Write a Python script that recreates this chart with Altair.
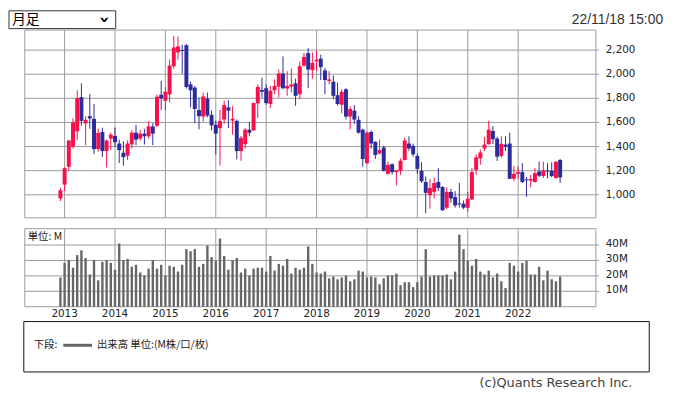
import altair as alt
import pandas as pd

# Monthly candles, Dec 2012 .. Nov 2022
opens = [970, 1084, 1232, 1398, 1526, 1810, 1592, 1652, 1630, 1379, 1521, 1363, 1466,
         1488, 1425, 1349, 1324, 1417, 1515, 1466, 1507, 1485, 1567, 1573, 1829,
         1780, 1832, 2066, 2181, 2200, 2241, 1916, 1889, 1703, 1649, 1799, 1663,
         1581, 1553, 1624, 1725, 1616, 1613, 1362, 1420, 1540, 1534, 1758, 1870,
         1884, 1753, 1867, 1897, 2006, 1881, 1897, 1924, 1834, 2072, 2175, 2034,
         2107, 2129, 2031, 1943, 1938, 1826, 1747, 1875, 1649, 1698, 1622, 1540,
         1262, 1521, 1439, 1343, 1392, 1174, 1253, 1188, 1199, 1289, 1425, 1406,
         1322, 1199, 1106, 997, 1024, 1106, 1065, 893, 1024, 981, 929, 926,
         893, 961, 1207, 1302, 1384, 1420, 1529, 1466, 1322, 1417, 1425, 1133,
         1174, 1188, 1128, 1117, 1106, 1193, 1155, 1202, 1199, 1139, 1289]
highs = [1057, 1228, 1455, 1635, 1867, 1924, 1652, 1834, 1753, 1548, 1556, 1458, 1515,
         1556, 1458, 1444, 1452, 1534, 1581, 1540, 1548, 1611, 1594, 1832, 1944,
         1894, 2121, 2317, 2312, 2244, 2249, 1938, 1903, 1807, 1848, 1848, 1698,
         1616, 1703, 1780, 1785, 1734, 1624, 1488, 1553, 1603, 1765, 1916, 1971,
         1916, 1903, 1957, 2039, 2148, 2025, 2047, 1963, 2107, 2175, 2216, 2181,
         2197, 2162, 2053, 2025, 1990, 1930, 1875, 1884, 1734, 1744, 1652, 1548,
         1526, 1534, 1444, 1458, 1406, 1275, 1262, 1206, 1302, 1472, 1485, 1425,
         1343, 1270, 1152, 1131, 1144, 1221, 1071, 1062, 1049, 1030, 1098, 953,
         1024, 1221, 1335, 1376, 1480, 1613, 1570, 1480, 1485, 1485, 1515, 1240,
         1234, 1262, 1147, 1166, 1221, 1275, 1275, 1262, 1270, 1278, 1297]
lows = [948, 1030, 1199, 1384, 1453, 1575, 1412, 1548, 1338, 1357, 1313, 1226, 1371,
        1398, 1264, 1240, 1289, 1384, 1412, 1452, 1417, 1466, 1412, 1559, 1703,
        1698, 1766, 2047, 2121, 2004, 1881, 1725, 1594, 1543, 1608, 1643, 1534,
        1335, 1242, 1589, 1553, 1499, 1294, 1281, 1384, 1485, 1530, 1635, 1807,
        1747, 1720, 1834, 1807, 1875, 1821, 1848, 1739, 1793, 2058, 1884, 1963,
        2025, 1952, 1834, 1916, 1793, 1739, 1676, 1624, 1543, 1589, 1507, 1234,
        1253, 1384, 1297, 1335, 1193, 1166, 1166, 1076, 1166, 1285, 1362, 1316,
        1174, 1098, 847, 885, 970, 1030, 866, 880, 934, 893, 893, 880,
        861, 955, 1166, 1248, 1362, 1415, 1420, 1281, 1308, 1362, 1130, 1112,
        1133, 1098, 983, 1062, 1102, 1147, 1139, 1136, 1147, 1135, 1098]
closes = [1038, 1221, 1450, 1602, 1802, 1613, 1622, 1633, 1379, 1513, 1363, 1450, 1499,
          1436, 1371, 1313, 1425, 1515, 1458, 1507, 1485, 1567, 1507, 1813, 1799,
          1854, 2072, 2222, 2230, 2192, 1894, 1867, 1712, 1652, 1815, 1657, 1575,
          1507, 1611, 1744, 1698, 1630, 1362, 1472, 1540, 1515, 1761, 1894, 1854,
          1761, 1862, 1903, 2006, 1884, 1903, 1916, 1821, 2066, 2143, 2039, 2094,
          2121, 2058, 1952, 1957, 1821, 1753, 1854, 1649, 1712, 1624, 1515, 1297,
          1515, 1425, 1330, 1371, 1199, 1248, 1188, 1202, 1283, 1450, 1384, 1335,
          1215, 1112, 1016, 1057, 1098, 1057, 872, 1024, 970, 912, 921, 893,
          967, 1188, 1311, 1351, 1417, 1540, 1461, 1316, 1423, 1398, 1133, 1174,
          1188, 1106, 1120, 1131, 1180, 1158, 1202, 1193, 1155, 1275, 1144]
volumes = [19.0, 28.4, 30.3, 25.3, 33.5, 36.6, 31.6, 20.9, 30.3, 17.1, 29.1, 30.3, 28.4,
           24.0, 41.0, 30.3, 31.0, 25.9, 27.2, 22.2, 20.3, 24.7, 30.3, 24.7, 27.2,
           20.3, 26.6, 25.9, 22.8, 27.2, 37.3, 36.0, 37.3, 25.9, 27.8, 39.8, 32.2,
           29.7, 44.2, 32.9, 24.0, 30.3, 31.6, 22.2, 24.7, 20.3, 24.7, 25.3, 25.3,
           22.8, 32.9, 23.4, 27.8, 26.6, 31.0, 21.5, 25.3, 24.0, 25.3, 39.1, 27.8,
           22.2, 21.5, 22.8, 18.4, 19.6, 17.8, 19.0, 20.3, 16.5, 17.8, 23.4, 22.8,
           19.0, 19.6, 19.0, 14.6, 18.4, 20.3, 20.3, 21.5, 14.0, 15.9, 15.9, 12.7,
           15.9, 19.6, 37.3, 19.6, 20.3, 20.3, 20.3, 20.9, 17.8, 22.8, 46.7, 37.3,
           29.7, 26.6, 31.0, 22.8, 20.9, 23.4, 19.0, 21.5, 16.5, 12.1, 28.4, 26.6,
           22.8, 28.4, 29.7, 20.9, 20.9, 25.9, 17.1, 23.4, 17.8, 16.5, 19.6]

price_ticks = [1000, 1200, 1400, 1600, 1800, 2000, 2200]
price_tick_labels = ["1,000", "1,200", "1,400", "1,600", "1,800", "2,000", "2,200"]
volume_ticks = [10, 20, 30, 40]
volume_tick_labels = ["10M", "20M", "30M", "40M"]
year_labels = ["2013", "2014", "2015", "2016", "2017", "2018", "2019", "2020", "2021", "2022"]

RED = "#F5114B"
BLUE = "#2B2B9B"
GRID = "#9a9a9a"
VOL = "#666666"
NUM_FONT = "DejaVu Sans"
JP_FONT = "Noto Sans CJK JP"

n = len(opens)
candles = pd.DataFrame({
    "i": list(range(n)),
    "open": opens, "high": highs, "low": lows, "close": closes, "volume": volumes,
})
candles["dir"] = ["up" if c >= o else "down" for o, c in zip(opens, closes)]

years = pd.DataFrame({"i": [1 + 12 * k for k in range(len(year_labels))], "label": year_labels})
pticks = pd.DataFrame({"v": price_ticks, "label": price_tick_labels})
vticks = pd.DataFrame({"v": volume_ticks, "label": volume_tick_labels})
one = pd.DataFrame({"k": [0]})

xs = alt.Scale(domain=[0, n - 1], range=[53.05, 558.8], nice=False, zero=False, padding=0)
py = alt.Scale(domain=[809, 2366], range=[210, 20], nice=False, zero=False, padding=0)
vy = alt.Scale(domain=[0, 50.6], range=[300, 221], nice=False, zero=False, padding=0)
color = alt.Color("dir:N", scale=alt.Scale(domain=["up", "down"], range=[RED, BLUE]), legend=None)

X = alt.X("i:Q", scale=xs, axis=None)

# ---------- price panel ----------
p_grid = alt.Chart(pticks).mark_rule(color=GRID, strokeWidth=1).encode(
    y=alt.Y("v:Q", scale=py, axis=None), x=alt.value(17), x2=alt.value(598))
p_years = alt.Chart(years).mark_rule(color=GRID, strokeWidth=1).encode(
    x=X, y=alt.value(20), y2=alt.value(210))
p_border = alt.Chart(one).mark_rect(fill=None, stroke=GRID, strokeWidth=1).encode(
    x=alt.value(17), x2=alt.value(595), y=alt.value(20), y2=alt.value(210))
wicks = alt.Chart(candles).mark_rule(strokeWidth=1).encode(
    x=X, y=alt.Y("low:Q", scale=py, axis=None), y2="high:Q", color=color)
bodies = alt.Chart(candles).mark_bar(size=4).encode(
    x=X, y=alt.Y("open:Q", scale=py, axis=None), y2="close:Q", color=color)
p_labels = alt.Chart(pticks).mark_text(align="left", baseline="middle", font=NUM_FONT,
                                       fontSize=10.5, color="#222").encode(
    x=alt.value(605), y=alt.Y("v:Q", scale=py, axis=None), text="label:N")
price = alt.layer(p_grid, p_years, p_border, wicks, bodies, p_labels)

# ---------- volume panel ----------
v_grid = alt.Chart(vticks).mark_rule(color=GRID, strokeWidth=1).encode(
    y=alt.Y("v:Q", scale=vy, axis=None), x=alt.value(17), x2=alt.value(598))
v_years = alt.Chart(years).mark_rule(color=GRID, strokeWidth=1).encode(
    x=X, y=alt.value(221), y2=alt.value(300))
v_border = alt.Chart(one).mark_rect(fill=None, stroke=GRID, strokeWidth=1).encode(
    x=alt.value(17), x2=alt.value(595), y=alt.value(221), y2=alt.value(300))
bars = alt.Chart(candles).mark_bar(size=2.4, color=VOL).encode(
    x=X, y=alt.Y("volume:Q", scale=vy, axis=None))
v_labels = alt.Chart(vticks).mark_text(align="left", baseline="middle", font=NUM_FONT,
                                       fontSize=10.5, color="#222", dy=-1).encode(
    x=alt.value(605), y=alt.Y("v:Q", scale=vy, axis=None), text="label:N")
unit = alt.Chart(one).mark_text(text="単位: M", align="left", baseline="middle",
                                font=JP_FONT, fontSize=10.5, color="#222").encode(
    x=alt.value(20), y=alt.value(229.5))
year_text = alt.Chart(years).mark_text(align="center", baseline="middle", font=NUM_FONT,
                                       fontSize=10.5, color="#222").encode(
    x=X, y=alt.value(307), text="label:N")
volume = alt.layer(v_grid, v_years, v_border, bars, v_labels, unit, year_text)

# ---------- header ----------
sel_box = alt.Chart(one).mark_rect(fill="white", stroke="#333", strokeWidth=1).encode(
    x=alt.value(1), x2=alt.value(109), y=alt.value(0.5), y2=alt.value(18.5))
sel_text = alt.Chart(one).mark_text(text="月足", align="left", baseline="middle",
                                    font=JP_FONT, fontSize=14, color="#000").encode(
    x=alt.value(4), y=alt.value(10))
sel_arrow = alt.Chart(one).mark_text(text="›", align="center", baseline="middle", angle=90,
                                     font=NUM_FONT, fontSize=17, fontWeight="bold",
                                     color="#000").encode(
    x=alt.value(97), y=alt.value(9.5))
stamp = alt.Chart(one).mark_text(text="22/11/18 15:00", align="right", baseline="middle",
                                 font="Liberation Sans", fontSize=14, color="#333").encode(
    x=alt.value(663), y=alt.value(10))

# ---------- legend ----------
leg_box = alt.Chart(one).mark_rect(fill=None, stroke="#111", strokeWidth=1).encode(
    x=alt.value(16), x2=alt.value(649), y=alt.value(315), y2=alt.value(366))
leg_lead = alt.Chart(one).mark_text(text="下段:", align="left", baseline="middle",
                                    font=JP_FONT, fontSize=10.5, color="#222").encode(
    x=alt.value(26), y=alt.value(339))
leg_line = alt.Chart(one).mark_rule(color=VOL, strokeWidth=3).encode(
    x=alt.value(56), x2=alt.value(85), y=alt.value(339))
leg_text = alt.Chart(one).mark_text(text="出来高 単位:(M株/口/枚)", align="left",
                                    baseline="middle", font=JP_FONT, fontSize=10.5,
                                    color="#222").encode(
    x=alt.value(90), y=alt.value(339))
copyright_ = alt.Chart(one).mark_text(text="(c)Quants Research Inc.", align="right",
                                      baseline="middle", font=NUM_FONT, fontSize=13,
                                      color="#444").encode(
    x=alt.value(632), y=alt.value(377.5))

chart = alt.layer(
    price, volume, sel_box, sel_text, sel_arrow, stamp,
    leg_box, leg_lead, leg_line, leg_text, copyright_,
).resolve_scale(y="independent").properties(
    width=669, height=389, padding=0,
    autosize=alt.AutoSizeParams(type="none"),
).configure_view(stroke=None)

chart.save("out.html", embed_options={"renderer": "svg", "actions": False})
